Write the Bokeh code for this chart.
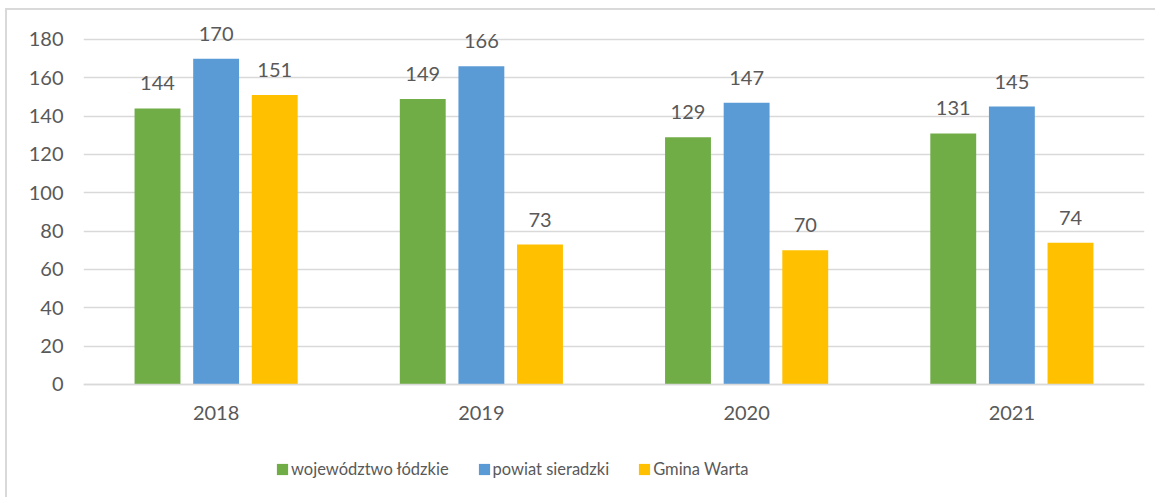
from bokeh.plotting import figure
from bokeh.models import ColumnDataSource, FactorRange, Legend, LegendItem, FixedTicker, Range1d
from bokeh.transform import dodge
from bokeh.core.properties import value
from bokeh.embed import file_html
from bokeh.resources import INLINE

years = ["2018", "2019", "2020", "2021"]
lodzkie = [144, 149, 129, 131]
sieradzki = [170, 166, 147, 145]
warta = [151, 73, 70, 74]
series_names = ["województwo łódzkie", "powiat sieradzki", "Gmina Warta"]
colors = ["#70AD47", "#5B9BD5", "#FFC000"]
y_ticks = [0, 20, 40, 60, 80, 100, 120, 140, 160, 180]

src = ColumnDataSource(dict(
    year=years, a=lodzkie, b=sieradzki, c=warta,
    ta=[str(v) for v in lodzkie], tb=[str(v) for v in sieradzki], tc=[str(v) for v in warta],
))

FONT = "Lato"
TXT = "#595959"
GRID = "#D9D9D9"

W, H = 1150, 489
p = figure(x_range=FactorRange(*years, range_padding=0), y_range=Range1d(-58.96, 192.5),
           width=W, height=H, output_backend="svg", toolbar_location=None,
           min_border_left=76, min_border_right=13, min_border_top=5, min_border_bottom=2)
p.styles = {"transform": "translate(5px, 8px)",
            "border-left": "2px solid #D9D9D9", "border-top": "2px solid #D9D9D9"}
p.outline_line_color = None
p.background_fill_color = "white"
p.border_fill_color = "white"

offsets = [-0.221, 0.0, 0.221]
cols = ["a", "b", "c"]
tcols = ["ta", "tb", "tc"]
renderers = []
for off, col, tcol, color in zip(offsets, cols, tcols, colors):
    r = p.vbar(x=dodge("year", off, range=p.x_range), top=col, width=0.173,
               source=src, fill_color=color, line_color=None)
    renderers.append(r)
    p.text(x=dodge("year", off, range=p.x_range), y=col, text=tcol, source=src,
           text_align="center", text_baseline="bottom", y_offset=-18,
           text_font=value(FONT), text_font_size="20px", text_color=TXT)

p.yaxis.ticker = FixedTicker(ticks=y_ticks)
p.yaxis.axis_line_color = None
p.yaxis.major_tick_line_color = None
p.yaxis.minor_tick_line_color = None
p.yaxis.major_tick_out = 0
p.yaxis.major_label_standoff = 20
p.yaxis.major_label_text_font = FONT
p.yaxis.major_label_text_font_size = "20px"
p.yaxis.major_label_text_color = TXT

p.xaxis.fixed_location = 0
p.xaxis.axis_line_color = GRID
p.xaxis.axis_line_width = 1.5
p.xaxis.major_tick_line_color = None
p.xaxis.minor_tick_line_color = None
p.xaxis.major_tick_out = 0
p.xaxis.major_label_standoff = 22
p.xaxis.major_label_text_font = FONT
p.xaxis.major_label_text_font_size = "20px"
p.xaxis.major_label_text_color = TXT

p.xgrid.grid_line_color = None
p.ygrid.grid_line_color = GRID
p.ygrid.grid_line_width = 1.5
p.ygrid.ticker = FixedTicker(ticks=y_ticks)

legend = Legend(items=[LegendItem(label=n, renderers=[r]) for n, r in zip(series_names, renderers)],
                orientation="horizontal", location=(192, 18),
                label_text_font=FONT, label_text_font_size="16.5px", label_text_color=TXT,
                glyph_width=14, glyph_height=14, label_standoff=2, spacing=28,
                border_line_color=None, background_fill_alpha=0, padding=0, margin=0)
p.add_layout(legend, "center")

open("out.html", "w").write(file_html(p, INLINE))
